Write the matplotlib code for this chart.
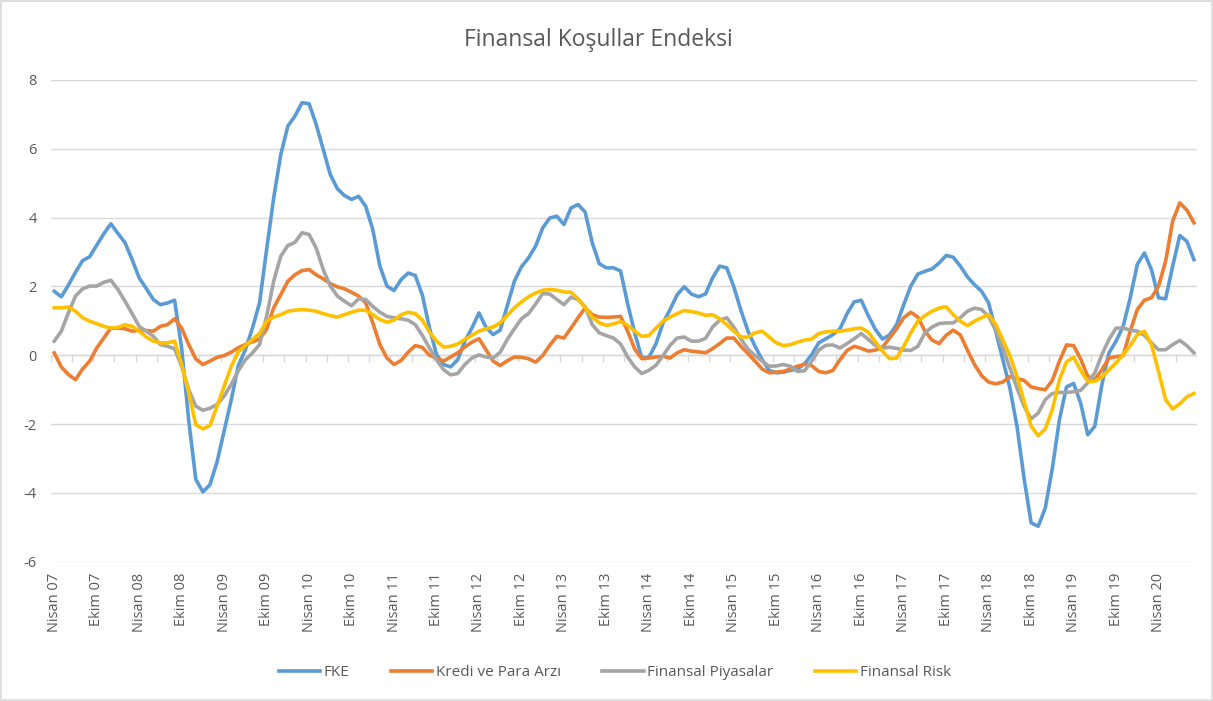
import matplotlib
matplotlib.use("Agg")
import matplotlib.pyplot as plt
from matplotlib.patches import Rectangle

plt.rcParams["font.family"] = ["Open Sans", "DejaVu Sans"]

# monthly series, Nisan 2007 .. Eylul 2020
fke = [
    1.86, 1.70, 2.04, 2.41, 2.75, 2.86, 3.20, 3.53, 3.82, 3.54, 3.27, 2.78, 2.25, 1.94, 1.62, 1.47, 1.52, 1.60,
    0.20, -1.90, -3.61, -3.97, -3.76, -3.10, -2.20, -1.30, -0.30,
    0.16, 0.79, 1.52, 3.07, 4.57, 5.83, 6.66, 6.95, 7.34, 7.31, 6.71, 5.98, 5.25, 4.84, 4.64, 4.53, 4.62, 4.33,
    3.65, 2.59, 2.01, 1.88, 2.20, 2.39, 2.32, 1.75, 0.80,
    0.02, -0.27, -0.34, -0.13, 0.41, 0.79, 1.23, 0.81, 0.60, 0.73, 1.44, 2.15, 2.57, 2.83, 3.17, 3.70, 3.99, 4.04,
    3.80, 4.28, 4.38, 4.16, 3.27, 2.66, 2.54, 2.54, 2.45,
    1.50, 0.65, -0.08, -0.06, 0.33, 0.94, 1.33, 1.76, 1.99, 1.78, 1.70, 1.78, 2.25, 2.59, 2.54, 1.99, 1.31, 0.70,
    0.26, -0.13, -0.44, -0.51, -0.49, -0.44, -0.40, -0.25,
    0.02, 0.36, 0.48, 0.60, 0.77, 1.21, 1.55, 1.60, 1.15, 0.75, 0.47, 0.59, 0.89, 1.47, 2.01, 2.36, 2.44, 2.51,
    2.68, 2.90, 2.85, 2.59, 2.28, 2.05, 1.86, 1.52, 0.70,
    -0.13, -0.95, -2.06, -3.57, -4.87, -4.97, -4.44, -3.28, -1.87, -0.92, -0.82, -1.39, -2.31, -2.06, -0.85, 0.07,
    0.41, 0.84, 1.67, 2.64, 2.97, 2.49, 1.67, 1.64, 2.59, 3.48, 3.31, 2.78,
]
kredi = [
    0.07, -0.34, -0.56, -0.71, -0.40, -0.17, 0.21, 0.50, 0.79, 0.79, 0.77, 0.70, 0.73, 0.72, 0.70, 0.84, 0.89, 1.06,
    0.79, 0.31, -0.11, -0.27, -0.17, -0.06, -0.01, 0.09, 0.22,
    0.31, 0.39, 0.47, 0.75, 1.38, 1.76, 2.15, 2.34, 2.46, 2.49, 2.34, 2.22, 2.08, 1.99, 1.93, 1.83, 1.72, 1.52,
    0.94, 0.31, -0.08, -0.27, -0.15, 0.09, 0.28, 0.23, 0.00,
    -0.08, -0.17, -0.05, 0.07, 0.24, 0.38, 0.48, 0.16, -0.17, -0.30, -0.16, -0.05, -0.06, -0.10, -0.20, -0.01,
    0.29, 0.55, 0.50, 0.79, 1.09, 1.38, 1.18, 1.11, 1.10, 1.11, 1.13,
    0.70, 0.18, -0.10, -0.08, -0.05, -0.03, -0.08, 0.07, 0.16, 0.12, 0.10, 0.07, 0.19, 0.34, 0.50, 0.50, 0.26, 0.05,
    -0.17, -0.40, -0.51, -0.49, -0.47, -0.40, -0.32, -0.26,
    -0.30, -0.47, -0.51, -0.44, -0.13, 0.14, 0.26, 0.20, 0.12, 0.15, 0.23, 0.50, 0.77, 1.09, 1.25, 1.11, 0.70, 0.44,
    0.34, 0.58, 0.73, 0.59, 0.15, -0.27, -0.59, -0.78, -0.83,
    -0.78, -0.62, -0.68, -0.73, -0.92, -0.97, -1.00, -0.73, -0.17, 0.30, 0.28, -0.11, -0.61, -0.71, -0.42, -0.08,
    -0.04, -0.01, 0.70, 1.33, 1.60, 1.67, 2.01, 2.73, 3.90, 4.43, 4.22, 3.85,
]
piyasalar = [
    0.41, 0.70, 1.23, 1.72, 1.93, 2.01, 2.01, 2.12, 2.18, 1.91, 1.57, 1.21, 0.84, 0.70, 0.55, 0.31, 0.26, 0.19,
    -0.32, -1.00, -1.48, -1.60, -1.54, -1.43, -1.19, -0.85, -0.45,
    -0.13, 0.07, 0.31, 1.13, 2.15, 2.88, 3.19, 3.28, 3.56, 3.51, 3.12, 2.49, 2.01, 1.72, 1.57, 1.44, 1.64, 1.62,
    1.42, 1.25, 1.13, 1.09, 1.06, 1.02, 0.89, 0.58, 0.21,
    -0.13, -0.42, -0.57, -0.53, -0.27, -0.08, 0.01, -0.05, -0.08, 0.09, 0.46, 0.77, 1.06, 1.21, 1.49, 1.79, 1.78,
    1.62, 1.47, 1.69, 1.62, 1.41, 0.89, 0.65, 0.57, 0.50, 0.33,
    -0.05, -0.34, -0.53, -0.44, -0.29, -0.01, 0.29, 0.50, 0.53, 0.41, 0.41, 0.49, 0.82, 1.02, 1.09, 0.82, 0.47, 0.18,
    -0.01, -0.17, -0.32, -0.31, -0.27, -0.32, -0.47, -0.45,
    -0.17, 0.15, 0.29, 0.30, 0.21, 0.34, 0.48, 0.63, 0.46, 0.28, 0.21, 0.23, 0.20, 0.15, 0.14, 0.26, 0.65, 0.82,
    0.92, 0.94, 0.94, 1.09, 1.28, 1.37, 1.33, 1.13, 0.72,
    0.21, -0.37, -0.95, -1.48, -1.85, -1.68, -1.29, -1.11, -1.08, -1.08, -1.06, -1.02, -0.80, -0.51, 0.02, 0.46,
    0.79, 0.79, 0.73, 0.70, 0.58, 0.36, 0.16, 0.16, 0.31, 0.43, 0.28, 0.07,
]
risk = [
    1.38, 1.38, 1.40, 1.28, 1.09, 0.99, 0.92, 0.84, 0.79, 0.81, 0.89, 0.84, 0.70, 0.53, 0.41, 0.36, 0.36, 0.41,
    -0.27, -1.09, -2.02, -2.14, -2.04, -1.48, -0.90, -0.32, 0.10,
    0.28, 0.46, 0.63, 0.99, 1.11, 1.18, 1.28, 1.31, 1.33, 1.31, 1.28, 1.21, 1.15, 1.11, 1.18, 1.25, 1.31, 1.31,
    1.18, 1.04, 0.96, 1.02, 1.18, 1.25, 1.21, 1.02, 0.68,
    0.41, 0.24, 0.26, 0.33, 0.46, 0.58, 0.70, 0.77, 0.82, 0.94, 1.16, 1.38, 1.55, 1.70, 1.81, 1.89, 1.91, 1.89,
    1.84, 1.83, 1.64, 1.38, 1.11, 0.94, 0.87, 0.91, 0.98,
    0.87, 0.70, 0.55, 0.57, 0.79, 0.99, 1.11, 1.21, 1.30, 1.27, 1.23, 1.16, 1.18, 1.06, 0.89, 0.70, 0.53, 0.53,
    0.65, 0.70, 0.53, 0.36, 0.28, 0.31, 0.38, 0.44,
    0.47, 0.63, 0.68, 0.70, 0.70, 0.73, 0.77, 0.79, 0.67, 0.39, 0.12, -0.10, -0.08, 0.26, 0.65, 0.99, 1.15, 1.28,
    1.37, 1.41, 1.18, 0.99, 0.86, 0.99, 1.09, 1.18, 0.90,
    0.44, -0.01, -0.61, -1.34, -2.06, -2.34, -2.14, -1.58, -0.71, -0.19, -0.06, -0.44, -0.76, -0.76, -0.63, -0.42,
    -0.22, 0.02, 0.28, 0.60, 0.70, 0.31, -0.47, -1.29, -1.56, -1.41, -1.21, -1.11,
]

tick_labels = [
    "Nisan 07", "Ekim 07", "Nisan 08", "Ekim 08", "Nisan 09", "Ekim 09", "Nisan 10", "Ekim 10",
    "Nisan 11", "Ekim 11", "Nisan 12", "Ekim 12", "Nisan 13", "Ekim 13", "Nisan 14", "Ekim 14",
    "Nisan 15", "Ekim 15", "Nisan 16", "Ekim 16", "Nisan 17", "Ekim 17", "Nisan 18", "Ekim 18",
    "Nisan 19", "Ekim 19", "Nisan 20",
]

series = [
    ("FKE", fke, "#5B9BD5"),
    ("Kredi ve Para Arzı", kredi, "#ED7D31"),
    ("Finansal Piyasalar", piyasalar, "#A5A5A5"),
    ("Finansal Risk", risk, "#FFC000"),
]

n = len(fke)
x = list(range(n))
txt = "#595959"
grid = "#d9d9d9"

fig = plt.figure(figsize=(12.13, 7.01), dpi=100)
ax = fig.add_axes([0.0418, 0.1987, 0.9454, 0.6872])

for name, vals, col in series:
    ax.plot(x, vals, color=col, lw=2.6, label=name, solid_joinstyle="round")

ax.set_xlim(-0.5, n - 0.5)
ax.set_ylim(-6, 8)
ax.set_yticks(range(-6, 9, 2))
ax.set_yticklabels([str(v) for v in range(-6, 9, 2)])
ax.yaxis.grid(True, color=grid, lw=1)
ax.set_axisbelow(True)

# category axis line at zero with tick marks every 3 months
ax.axhline(0, color=grid, lw=1, zorder=1)
for t in range(0, n + 1, 3):
    ax.plot([t - 0.5, t - 0.5], [0, -0.17], color=grid, lw=1, zorder=1)

ax.set_xticks(x[::6])
ax.set_xticklabels(tick_labels, rotation=90)
ax.tick_params(axis="x", length=0, pad=8, labelsize=10.5, labelcolor=txt)
ax.tick_params(axis="y", length=0, pad=10, labelsize=10.5, labelcolor=txt)
for s in ax.spines.values():
    s.set_visible(False)

fig.suptitle("Finansal Koşullar Endeksi", x=0.493, y=0.96, fontsize=16.5, color=txt)

fig.legend(loc="center", bbox_to_anchor=(0.507, 0.04), ncol=4, frameon=False,
           fontsize=11, labelcolor=txt, handlelength=2.7, handletextpad=0.25,
           columnspacing=2.7)

fig.patches.append(Rectangle((0.0008, 0.0014), 0.9984, 0.997, transform=fig.transFigure,
                             fill=False, ec=grid, lw=1.2))

fig.savefig("out.png", dpi=100)
